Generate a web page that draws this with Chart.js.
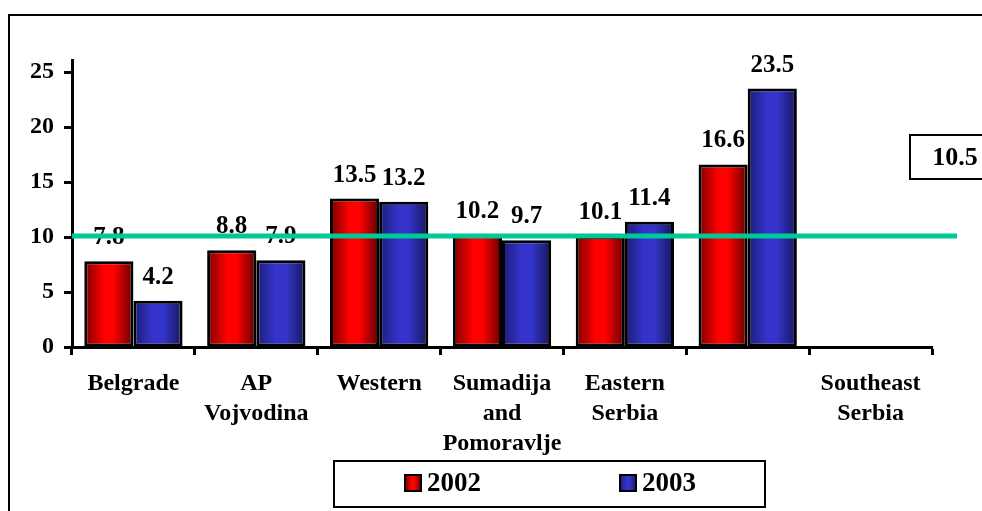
<!DOCTYPE html>
<html>
<head>
<meta charset="utf-8">
<script src="https://cdn.jsdelivr.net/npm/chart.js@4.4.1/dist/chart.umd.min.js"></script>
<style>
  html, body { margin: 0; padding: 0; background: #fff; }
  #wrap { width: 982px; height: 511px; }
</style>
</head>
<body>
<div id="wrap"><canvas id="chartBars" width="982" height="511"></canvas></div>
<script>
const regions = ['Belgrade', ['AP', 'Vojvodina'], 'Western', ['Sumadija', 'and', 'Pomoravlje'], ['Eastern', 'Serbia'], '', ['Southeast', 'Serbia']];
const seriesNames = ['2002', '2003'];
const values2002 = [7.8, 8.8, 13.5, 10.2, 10.1, 16.6, null];
const values2003 = [4.2, 7.9, 13.2, 9.7, 11.4, 23.5, null];
const yTicks = [0, 5, 10, 15, 20, 25];
const averageValue = 10.1;
const averageLabel = '10.5';

const serif = "'Liberation Serif', 'Times New Roman', serif";
const redStops = ['#780000', '#ff0000', '#ff0000', '#600000'];
const blueStops = ['#1c1c76', '#3434cc', '#3434cc', '#16165a'];
const fills = [redStops, blueStops];

function hGradient(c, x0, x1, stops) {
  const g = c.createLinearGradient(x0, 0, x1, 0);
  g.addColorStop(0, stops[0]);
  g.addColorStop(0.4, stops[1]);
  g.addColorStop(0.6, stops[2]);
  g.addColorStop(1, stops[3]);
  return g;
}

// outer frame of the picture
const framePlugin = {
  id: 'frame',
  beforeDraw(chart) {
    const c = chart.ctx;
    c.save();
    c.strokeStyle = '#000';
    c.lineWidth = 2;
    c.strokeRect(9, 15, 1100, 1100);
    c.restore();
  }
};

// shaded bars: one gradient per bar
const shadePlugin = {
  id: 'shade',
  beforeDatasetsDraw(chart) {
    chart.data.datasets.forEach((ds, i) => {
      chart.getDatasetMeta(i).data.forEach(el => {
        const { x, width } = el.getProps(['x', 'width'], true);
        el.options.backgroundColor = hGradient(chart.ctx, x - width / 2, x + width / 2, fills[i]);
      });
    });
  }
};

// value labels over the bars
const valuePlugin = {
  id: 'values',
  afterDatasetsDraw(chart) {
    const c = chart.ctx;
    c.save();
    c.font = 'bold 25px ' + serif;
    c.fillStyle = '#000';
    c.textAlign = 'center';
    c.textBaseline = 'alphabetic';
    chart.data.datasets.forEach((ds, i) => {
      chart.getDatasetMeta(i).data.forEach((el, j) => {
        const v = ds.data[j];
        if (v === null) return;
        c.fillText(v.toFixed(1), el.x, el.y - 17);
      });
    });
    c.restore();
  }
};

// average line, its box and the legend box
const extrasPlugin = {
  id: 'extras',
  afterDraw(chart) {
    const c = chart.ctx;
    const area = chart.chartArea;
    const y = chart.scales.y.getPixelForValue(averageValue);
    c.save();
    c.strokeStyle = '#00c896';
    c.lineWidth = 5;
    c.beginPath();
    c.moveTo(area.left, y);
    c.lineTo(area.right + 25, y);
    c.stroke();

    c.strokeStyle = '#000';
    c.lineWidth = 2;
    c.strokeRect(910, 135, 100, 44);
    c.fillStyle = '#000';
    c.font = 'bold 26px ' + serif;
    c.textAlign = 'center';
    c.textBaseline = 'middle';
    c.fillText(averageLabel, 955, 158);

    c.strokeRect(334, 461, 431, 46);
    const itemX = [405, 620];
    c.font = 'bold 27px ' + serif;
    c.textAlign = 'left';
    chart.data.datasets.forEach((ds, i) => {
      const x = itemX[i];
      c.fillStyle = hGradient(c, x, x + 16, fills[i]);
      c.fillRect(x, 475, 16, 16);
      c.lineWidth = 2;
      c.strokeRect(x, 475, 16, 16);
      c.fillStyle = '#000';
      c.fillText(ds.label, x + 22, 484);
    });
    c.restore();
  }
};

new Chart(document.getElementById('chartBars').getContext('2d'), {
  type: 'bar',
  data: {
    labels: regions,
    datasets: [
      {
        label: seriesNames[0],
        data: values2002,
        backgroundColor: () => '#ff0000',
        borderColor: '#000',
        borderWidth: 3,
        borderSkipped: false,
        barPercentage: 1.0,
        categoryPercentage: 0.8
      },
      {
        label: seriesNames[1],
        data: values2003,
        backgroundColor: () => '#3434cc',
        borderColor: '#000',
        borderWidth: 3,
        borderSkipped: false,
        barPercentage: 1.0,
        categoryPercentage: 0.8
      }
    ]
  },
  options: {
    responsive: false,
    animation: false,
    events: [],
    layout: { padding: { top: 60, right: 50, left: 0, bottom: 0 } },
    plugins: {
      legend: { display: false },
      tooltip: { enabled: false }
    },
    scales: {
      x: {
        grid: { drawOnChartArea: false, drawTicks: true, tickLength: 8, tickWidth: 3, tickColor: '#000', offset: true },
        border: { display: true, color: '#000', width: 3 },
        ticks: {
          color: '#000',
          autoSkip: false,
          maxRotation: 0,
          padding: 14,
          font: { family: serif, size: 24, weight: 'bold', lineHeight: 1.25 }
        },
        afterFit: s => { s.height = 164; }
      },
      y: {
        min: 0,
        max: 26.1,
        afterBuildTicks: s => { s.ticks = yTicks.map(v => ({ value: v })); },
        grid: { drawOnChartArea: false, tickLength: 8, tickWidth: 3, tickColor: '#000' },
        border: { display: true, color: '#000', width: 3 },
        ticks: {
          color: '#000',
          padding: 10,
          font: { family: serif, size: 24, weight: 'bold' }
        },
        afterFit: s => { s.width = 72; }
      }
    }
  },
  plugins: [framePlugin, shadePlugin, valuePlugin, extrasPlugin]
});
</script>
</body>
</html>
